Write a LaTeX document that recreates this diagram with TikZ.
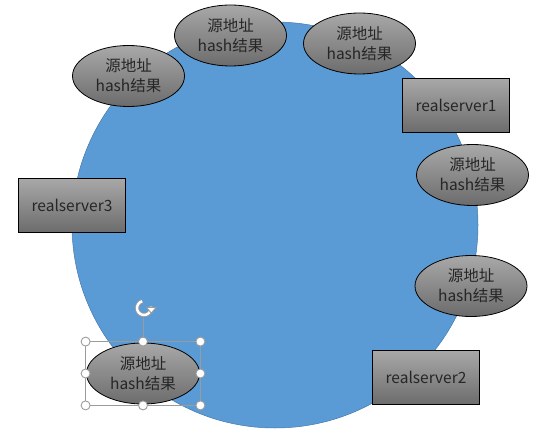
\documentclass[tikz,border=0pt]{standalone}
\usepackage{fontspec}
\setmainfont{Noto Sans CJK SC}
\usetikzlibrary{shapes.geometric}
\definecolor{ringblue}{RGB}{91,155,213}
\definecolor{ringedge}{RGB}{70,120,170}
\definecolor{gtop}{RGB}{168,168,168}
\definecolor{gbot}{RGB}{108,108,108}
\definecolor{txt}{RGB}{38,38,38}
\definecolor{handlec}{RGB}{155,155,155}
\begin{document}
\begin{tikzpicture}[x=1pt,y=-1pt,
  hashnode/.style={ellipse, draw=black, line width=0.8pt, top color=gtop, bottom color=gbot,
    minimum width=112pt, minimum height=61pt, inner sep=0pt, align=center,
    font=\fontsize{15.5}{20}\selectfont, text=txt},
  serverbox/.style={rectangle, draw=black, line width=1pt, top color=gtop, bottom color=gbot,
    minimum width=107pt, minimum height=54pt, inner sep=0pt,
    font=\fontsize{15.5}{20}\selectfont, text=txt},
  hdl/.style={circle, draw=handlec, fill=white, line width=0.9pt, minimum size=9pt, inner sep=0pt},
  selline/.style={draw=handlec, line width=0.8pt}]
\useasboundingbox (0,0) rectangle (548,446);
% ring
\node[circle, fill=ringblue, draw=ringedge, line width=0.5pt, minimum size=406pt, inner sep=0pt] (ring) at (275,225) {};
% hash result ellipses
\node[hashnode] (e1) at (128.5,76) {源地址\\hash结果};
\node[hashnode] (e2) at (230.5,35.5) {源地址\\hash结果};
\node[hashnode] (e3) at (359.5,43.5) {源地址\\hash结果};
\node[hashnode] (e4) at (472.5,175) {源地址\\hash结果};
\node[hashnode] (e5) at (471,286) {源地址\\hash结果};
\node[hashnode, minimum width=113pt, minimum height=61pt] (e6) at (143,373.5) {源地址\\hash结果};
% servers
\node[serverbox] (s1) at (456,105.5) {realserver1};
\node[serverbox] (s2) at (426,377.5) {realserver2};
\node[serverbox] (s3) at (72,205.5) {realserver3};
% selection frame around e6
\coordinate (nw) at ([xshift=-0.5pt,yshift=1pt]e6.west |- e6.north);
\coordinate (se) at ([xshift=0.5pt,yshift=-1pt]e6.east |- e6.south);
\coordinate (ne) at (se |- nw);
\coordinate (sw) at (nw |- se);
\coordinate (rot) at (144,308);
\draw[selline] (nw) rectangle (se);
\draw[selline] (e6.north |- nw) -- (143,318);
\foreach \p in {nw,ne,se,sw} \node[hdl] at (\p) {};
\node[hdl] at (e6.north |- nw) {};
\node[hdl] at (e6.south |- se) {};
\node[hdl] at (nw |- e6.center) {};
\node[hdl] at (se |- e6.center) {};
% rotate icon
\begin{scope}[shift={(rot)},yscale=-1]
  \draw[handlec, line width=4.2pt] (105:7) arc[start angle=105, end angle=372, radius=7];
  \draw[white, line width=2.4pt] (105:7) arc[start angle=105, end angle=372, radius=7];
  \filldraw[fill=white, draw=handlec, line width=0.9pt, line join=round] (2.6,0.6) -- (12,0.6) -- (7.3,-5.2) -- cycle;
\end{scope}
\end{tikzpicture}
\end{document}
